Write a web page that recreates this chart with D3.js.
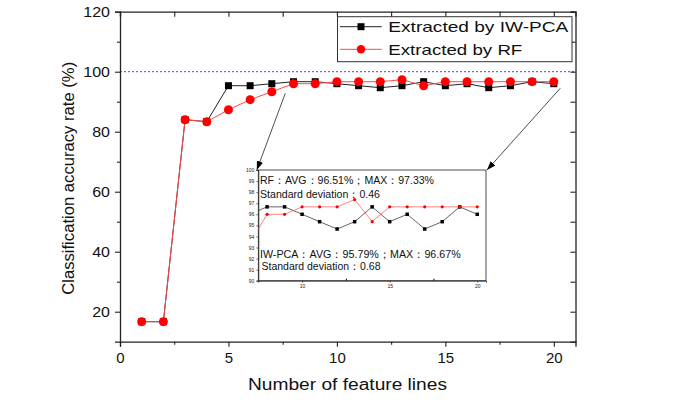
<!DOCTYPE html>
<html><head><meta charset="utf-8">
<script src="https://cdn.jsdelivr.net/npm/d3@7"></script>
<style>html,body{margin:0;padding:0;background:#fff;}svg{display:block;}</style>
</head><body><svg id="c" width="675" height="407"></svg>
<script>
// ---- data ----
const featureLines = [1,2,3,4,5,6,7,8,9,10,11,12,13,14,15,16,17,18,19,20];
const iwpcaAcc = [16.67,16.67,84,83.33,95.33,95.33,96,96.67,96.67,96,95.33,94.67,95.33,96.67,95.33,96,94.67,95.33,96.67,96];
const rfAcc    = [16.67,16.67,84,83.33,87.33,90.67,93.33,96,96,96.67,96.67,96.67,97.33,95.33,96.67,96.67,96.67,96.67,96.67,96.67];
const seriesNames = ["Extracted by IW-PCA","Extracted by RF"];
const xMajorTicks = [0,5,10,15,20];
const xMinorTicks = [2.5,7.5,12.5,17.5];
const yMajorTicks = [20,40,60,80,100,120];
const yMinorTicks = [30,50,70,90,110];
const insetYTicks = [90,91,92,93,94,95,96,97,98,99,100];
const insetXTicks = [10,15,20];
const insetXMinor = [12.5,17.5];
const insetTexts = ["RF：AVG：96.51%；MAX：97.33%","Standard deviation：0.46","IW-PCA：AVG：95.79%；MAX：96.67%","Standard deviation：0.68"];
const refLine = 100;

const FONT = "'Liberation Sans', Arial, sans-serif";
const svg = d3.select("#c");
const x = d3.scaleLinear([0,21],[120,575.5]);
const y = d3.scaleLinear([10,120],[341.7,11.7]);

// defs
const defs = svg.append("defs");
defs.append("marker").attr("id","arr").attr("viewBox","0 -4 9 8").attr("refX",9).attr("refY",0)
  .attr("markerWidth",9).attr("markerHeight",8).attr("markerUnits","userSpaceOnUse").attr("orient","auto")
  .append("path").attr("d","M0,-3.2L9,0L0,3.2Z").attr("fill","#000");

// reference dashed line
svg.append("line").attr("x1",x(0)).attr("x2",x(21)).attr("y1",y(refLine)).attr("y2",y(refLine))
  .attr("stroke","#3f3fff").attr("stroke-width",1).attr("stroke-dasharray","2,2");

// axes
function styleAxis(g){ g.select(".domain").attr("stroke","#222").attr("stroke-width",1.3);
  g.selectAll(".tick line").attr("stroke","#222").attr("stroke-width",1.1); }
const gx = svg.append("g").attr("transform",`translate(0,${y(10)})`)
  .call(d3.axisBottom(x).tickValues(xMajorTicks).tickSize(5).tickPadding(6).tickFormat(d3.format("d")));
gx.call(styleAxis);
gx.selectAll("text").attr("font-family",FONT).attr("font-size",15).attr("fill","#111");
svg.append("g").attr("transform",`translate(0,${y(10)})`)
  .call(d3.axisBottom(x).tickValues(xMinorTicks).tickSize(3).tickFormat("")).call(styleAxis).select(".domain").remove();
const gt = svg.append("g").attr("transform",`translate(0,${y(120)})`)
  .call(d3.axisTop(x).tickValues(xMajorTicks.concat(xMinorTicks)).tickSize(-5).tickFormat(""));
gt.call(styleAxis);
const gy = svg.append("g").attr("transform",`translate(${x(0)},0)`)
  .call(d3.axisLeft(y).tickValues(yMajorTicks).tickSize(5).tickPadding(5).tickFormat(d3.format("d")));
gy.call(styleAxis);
gy.selectAll("text").attr("font-family",FONT).attr("font-size",14).attr("fill","#111")
  .attr("textLength",d=>String(d).length*8.9).attr("lengthAdjust","spacingAndGlyphs");
svg.append("g").attr("transform",`translate(${x(0)},0)`)
  .call(d3.axisLeft(y).tickValues(yMinorTicks).tickSize(3).tickFormat("")).call(styleAxis).select(".domain").remove();
const gr = svg.append("g").attr("transform",`translate(${x(21)},0)`)
  .call(d3.axisRight(y).tickValues(yMajorTicks.concat(yMinorTicks)).tickSize(-5).tickFormat(""));
gr.call(styleAxis);

// axis titles
svg.append("text").attr("x",248).attr("y",390).attr("font-family",FONT).attr("font-size",16).attr("fill","#111")
  .attr("textLength",199).attr("lengthAdjust","spacingAndGlyphs").text("Number of feature lines");
svg.append("text").attr("transform","translate(73.5,178.3) rotate(-90)").attr("text-anchor","middle")
  .attr("font-family",FONT).attr("font-size",16.5).attr("fill","#111")
  .attr("textLength",233).attr("lengthAdjust","spacingAndGlyphs").text("Classification accuracy rate (%)");

// series
const series = [
  {vals: iwpcaAcc, line:"#222", fill:"#000", shape:"square"},
  {vals: rfAcc, line:"#ff4a4a", fill:"#ff0000", shape:"circle"}
];
function drawSeries(g, xs, ys, s, size, lw){
  const pts = featureLines.map((f,i)=>[xs(f), ys(s.vals[i])]);
  g.append("path").attr("d",d3.line()(pts)).attr("fill","none").attr("stroke",s.line).attr("stroke-width",lw);
  if(s.shape==="square"){
    g.selectAll(null).data(pts).join("rect").attr("x",p=>p[0]-size/2).attr("y",p=>p[1]-size/2)
      .attr("width",size).attr("height",size).attr("fill",s.fill);
  } else {
    g.selectAll(null).data(pts).join("circle").attr("cx",p=>p[0]).attr("cy",p=>p[1]).attr("r",size/2).attr("fill",s.fill);
  }
}
const gm = svg.append("g");
series.forEach(s=>drawSeries(gm, x, y, s, s.shape==="square"?7:9, 1));

// legend
const lg = svg.append("g");
lg.append("rect").attr("x",337.5).attr("y",16.7).attr("width",234.5).attr("height",45).attr("fill","#fff").attr("stroke","#333").attr("stroke-width",1);
const legW = [180,134];
series.forEach((s,i)=>{
  const cy = [26.7,49.3][i];
  lg.append("line").attr("x1",340).attr("x2",381.7).attr("y1",cy).attr("y2",cy).attr("stroke",s.line).attr("stroke-width",1);
  if(s.shape==="square") lg.append("rect").attr("x",357.5).attr("y",cy-3.5).attr("width",7).attr("height",7).attr("fill",s.fill);
  else lg.append("circle").attr("cx",361).attr("cy",cy).attr("r",4.2).attr("fill",s.fill);
  lg.append("text").attr("x",388.3).attr("y",cy+5.3).attr("font-family",FONT).attr("font-size",14.5).attr("fill","#111")
    .attr("textLength",legW[i]).attr("lengthAdjust","spacingAndGlyphs").text(seriesNames[i]);
});

// inset
const xi = d3.scaleLinear([7.5,20.5],[258.3,486]);
const yi = d3.scaleLinear([90,100],[280.7,170]);
const ins = svg.append("g");
ins.append("rect").attr("x",xi(7.5)).attr("y",yi(100)).attr("width",xi(20.5)-xi(7.5)).attr("height",yi(90)-yi(100))
  .attr("fill","#fff").attr("stroke","none");
defs.append("clipPath").attr("id","iclip").append("rect").attr("x",xi(7.5)).attr("y",yi(100))
  .attr("width",xi(20.5)-xi(7.5)).attr("height",yi(90)-yi(100));
const iy = ins.append("g").attr("transform",`translate(${xi(7.5)},0)`)
  .call(d3.axisLeft(yi).tickValues(insetYTicks).tickSize(2).tickPadding(2).tickFormat(d3.format("d")));
const ix = ins.append("g").attr("transform",`translate(0,${yi(90)})`)
  .call(d3.axisBottom(xi).tickValues(insetXTicks).tickSize(2).tickPadding(2).tickFormat(d3.format("d")));
ins.append("g").attr("transform",`translate(0,${yi(90)})`)
  .call(d3.axisBottom(xi).tickValues(insetXMinor).tickSize(-2).tickFormat("")).select(".domain").remove();
[iy,ix].forEach(g=>{g.select(".domain").attr("stroke","#222").attr("stroke-width",0.8);
  g.selectAll(".tick line").attr("stroke","#222").attr("stroke-width",0.6);
  g.selectAll("text").attr("font-family",FONT).attr("font-size",5).attr("fill","#222");});
ins.append("rect").attr("x",xi(7.5)).attr("y",yi(100)).attr("width",xi(20.5)-xi(7.5)).attr("height",yi(90)-yi(100))
  .attr("fill","none").attr("stroke","#222").attr("stroke-width",0.8);
const ic = ins.append("g").attr("clip-path","url(#iclip)");
series.forEach(s=>drawSeries(ic, xi, yi, s, s.shape==="square"?3.5:3.2, 0.7));
const itPos = [[260,184,174],[260,198,120],[260,257.7,200.7],[261.5,270,119]];
insetTexts.forEach((t,i)=>{
  ins.append("text").attr("x",itPos[i][0]).attr("y",itPos[i][1]).attr("font-family",FONT).attr("font-size",10.5).attr("fill","#111")
    .attr("textLength",itPos[i][2]).attr("lengthAdjust","spacingAndGlyphs").text(t);
});

// arrows
svg.append("line").attr("x1",x(7.62)).attr("y1",y(92.8)).attr("x2",xi(7.5)-1.5).attr("y2",yi(100)).attr("stroke","#222").attr("stroke-width",0.8).attr("marker-end","url(#arr)");
svg.append("line").attr("x1",x(20.3)).attr("y1",y(94.5)).attr("x2",xi(20.5)+1).attr("y2",yi(100)).attr("stroke","#222").attr("stroke-width",0.8).attr("marker-end","url(#arr)");
</script></body></html>
